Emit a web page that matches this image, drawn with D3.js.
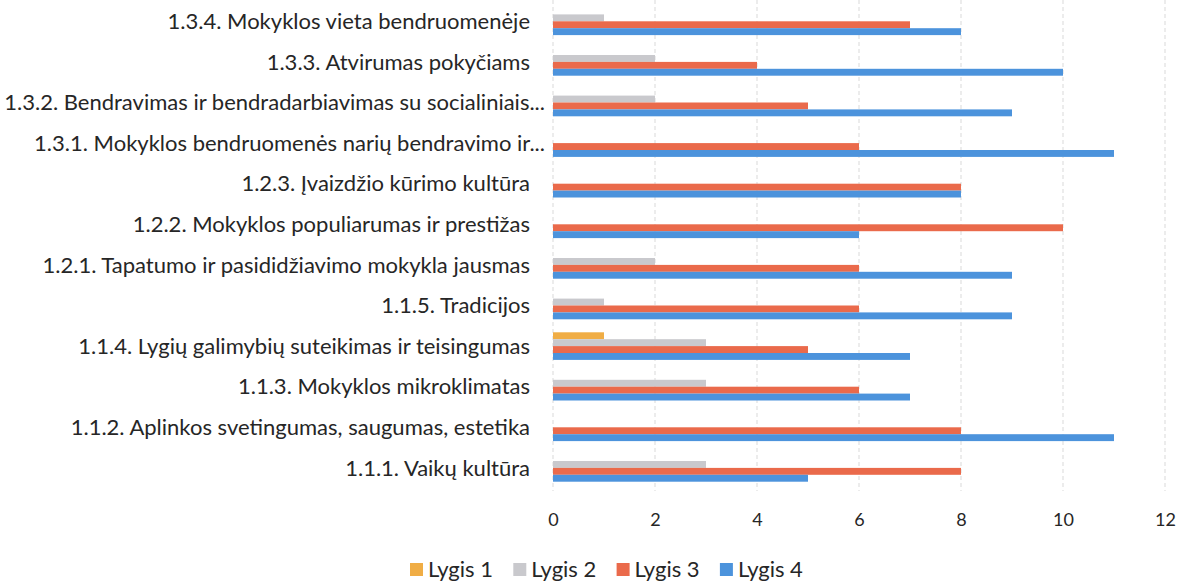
<!DOCTYPE html>
<html lang="lt">
  <head>
    <meta charset="utf-8" />
    <style type="text/css">
      body {
        margin: 0;
        background: #fff;
      }
      svg text {
        font-family: Lato, "Open Sans", sans-serif;
        fill: #262626;
      }
    </style>
  </head>
  <body>
    <svg width="1187" height="584"></svg>

    <script src="https://d3js.org/d3.v7.min.js"></script>
    <script type="text/javascript">
      // categories, top to bottom
      var categories = [
        "1.3.4. Mokyklos vieta bendruomenėje",
        "1.3.3. Atvirumas pokyčiams",
        "1.3.2. Bendravimas ir bendradarbiavimas su socialiniais...",
        "1.3.1. Mokyklos bendruomenės narių bendravimo ir...",
        "1.2.3. Įvaizdžio kūrimo kultūra",
        "1.2.2. Mokyklos populiarumas ir prestižas",
        "1.2.1. Tapatumo ir pasididžiavimo mokykla jausmas",
        "1.1.5. Tradicijos",
        "1.1.4. Lygių galimybių suteikimas ir teisingumas",
        "1.1.3. Mokyklos mikroklimatas",
        "1.1.2. Aplinkos svetingumas, saugumas, estetika",
        "1.1.1. Vaikų kultūra"
      ];
      var seriesNames = ["Lygis 1", "Lygis 2", "Lygis 3", "Lygis 4"];
      var lygis1 = [0, 0, 0, 0, 0, 0, 0, 0, 1, 0, 0, 0];
      var lygis2 = [1, 2, 2, 0, 0, 0, 2, 1, 3, 3, 0, 3];
      var lygis3 = [7, 4, 5, 6, 8, 10, 6, 6, 5, 6, 8, 8];
      var lygis4 = [8, 10, 9, 11, 8, 6, 9, 9, 7, 7, 11, 5];
      var xTicks = [0, 2, 4, 6, 8, 10, 12];
      var colors = ["#F0AD45", "#C9C9CD", "#EA6A4B", "#4C93DC"];

      var series = [lygis1, lygis2, lygis3, lygis4];

      var svg = d3.select("svg");

      var x = d3.scaleLinear().domain([0, 12]).range([553, 1165]);
      var y = d3
        .scaleBand()
        .domain(categories)
        .range([1, 488.2])
        .paddingInner(0.32)
        .paddingOuter(0.16);
      var ySub = d3
        .scaleBand()
        .domain(d3.range(4))
        .range([0, y.bandwidth()]);

      // gridlines
      svg
        .selectAll(".grid")
        .data(xTicks)
        .enter()
        .append("line")
        .attr("class", "grid")
        .attr("x1", (d) => x(d))
        .attr("x2", (d) => x(d))
        .attr("y1", 0)
        .attr("y2", 491)
        .attr("stroke", "#d9d9d9")
        .attr("stroke-width", 1)
        .attr("stroke-dasharray", "4,3");

      // bars
      var groups = svg
        .selectAll(".group")
        .data(categories)
        .enter()
        .append("g")
        .attr("class", "group")
        .attr("transform", (d) => "translate(0," + y(d) + ")");

      groups
        .selectAll("rect")
        .data((d, i) => series.map((s, k) => ({ k: k, v: s[i] })))
        .enter()
        .append("rect")
        .attr("x", x(0))
        .attr("y", (d) => ySub(d.k))
        .attr("width", (d) => x(d.v) - x(0))
        .attr("height", ySub.bandwidth())
        .attr("fill", (d) => colors[d.k]);

      // category labels (truncated ones sit a bit closer to the axis)
      svg
        .selectAll(".cat")
        .data(categories)
        .enter()
        .append("text")
        .attr("class", "cat")
        .attr("x", (d) => (d.endsWith("...") ? 545 : 530))
        .attr("y", (d) => y(d) + y.bandwidth() / 2)
        .attr("dy", "0.35em")
        .attr("text-anchor", "end")
        .attr("font-size", 22)
        .text((d) => d);

      // x axis labels
      var xAxis = d3
        .axisBottom(x)
        .tickValues(xTicks)
        .tickSize(0)
        .tickPadding(0);
      var ax = svg
        .append("g")
        .attr("transform", "translate(0,513)")
        .call(xAxis);
      ax.select(".domain").remove();
      ax.selectAll("text")
        .attr("font-size", 18)
        .style("font-family", "Lato, 'Open Sans', sans-serif")
        .attr("fill", "#262626");

      // legend
      var legend = svg
        .selectAll(".legend")
        .data(seriesNames)
        .enter()
        .append("g")
        .attr("class", "legend")
        .attr("transform", (d, i) => "translate(" + (410 + i * 103.3) + ",569)");
      legend
        .append("rect")
        .attr("x", 0)
        .attr("y", -6)
        .attr("width", 13)
        .attr("height", 13)
        .attr("fill", (d, i) => colors[i]);
      legend
        .append("text")
        .attr("x", 18)
        .attr("y", 0)
        .attr("dy", "0.35em")
        .attr("font-size", 22)
        .text((d) => d);
    </script>
  </body>
</html>
